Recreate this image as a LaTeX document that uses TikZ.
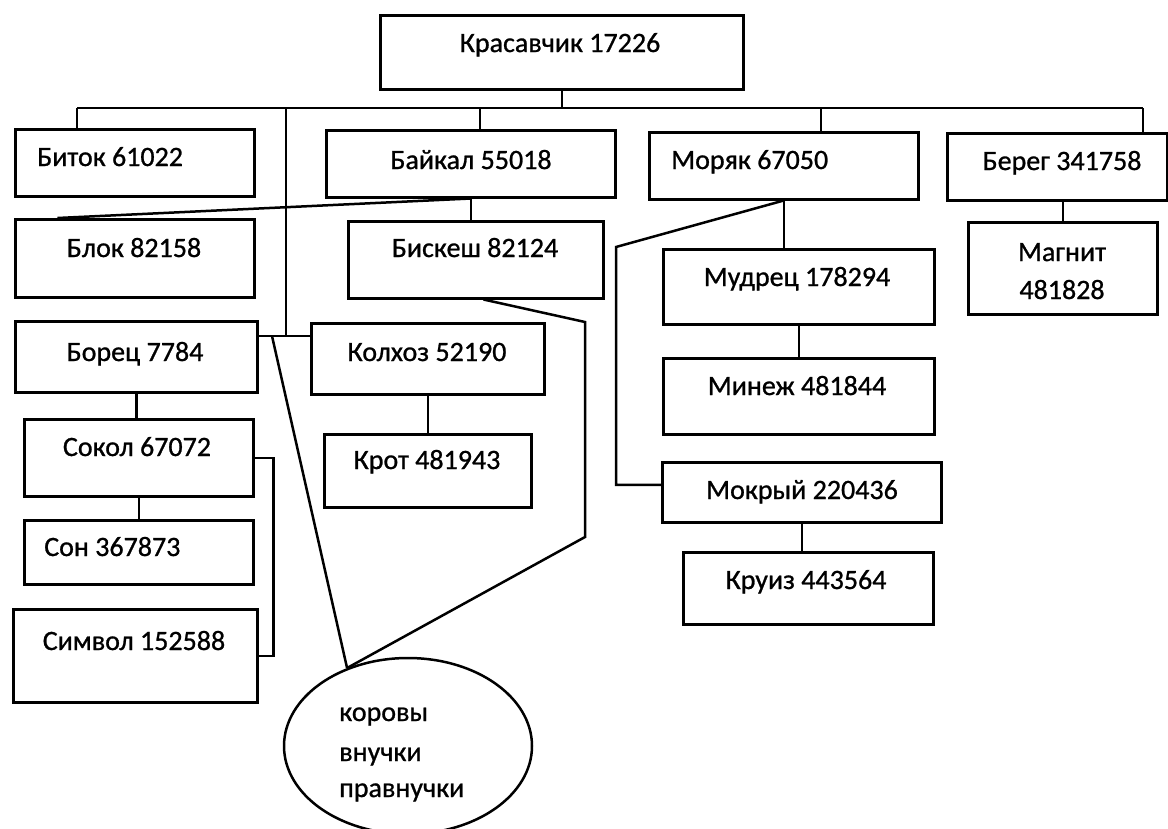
\documentclass[tikz,border=0pt]{standalone}
\usepackage{fontspec}
\setmainfont{Carlito}[FakeBold=0.9]
\usetikzlibrary{calc,shapes.geometric}
\begin{document}
\begin{tikzpicture}[x=1pt,y=-1pt,
  line width=2.5pt,
  box/.style={draw, rectangle, inner sep=0pt, anchor=north west},
  lab/.style={inner sep=0pt, anchor=base, font=\fontsize{28}{34}\selectfont},
  labl/.style={lab, anchor=base west},
  link/.style={draw, line width=2.5pt}]
\useasboundingbox[fill=white] (0,0) rectangle (1168,828);

% boxes
\node[box, minimum width=363, minimum height=74] (root)    at (379,14)  {};
\node[box, minimum width=239, minimum height=67] (bitok)   at (14,128)  {};
\node[box, minimum width=289, minimum height=67] (baikal)  at (325,129) {};
\node[box, minimum width=269, minimum height=67] (moryak)  at (648,131) {};
\node[box, minimum width=220, minimum height=67] (bereg)   at (946,132) {};
\node[box, minimum width=239, minimum height=78] (blok)    at (14,218)  {};
\node[box, minimum width=255, minimum height=77] (biskesh) at (347,220) {};
\node[box, minimum width=189, minimum height=92] (magnit)  at (967,221) {};
\node[box, minimum width=271, minimum height=75] (mudrec)  at (662,248) {};
\node[box, minimum width=242, minimum height=71] (borec)   at (14,320)  {};
\node[box, minimum width=233, minimum height=71] (kolhoz)  at (310,322) {};
\node[box, minimum width=271, minimum height=76] (minezh)  at (662,357) {};
\node[box, minimum width=229, minimum height=77] (sokol)   at (23,418)  {};
\node[box, minimum width=207, minimum height=73] (krot)    at (323,433) {};
\node[box, minimum width=279, minimum height=60] (mokryj)  at (661,461) {};
\node[box, minimum width=250, minimum height=72] (kruiz)   at (682,551) {};
\node[box, minimum width=229, minimum height=64] (son)     at (23,519)  {};
\node[box, minimum width=244, minimum height=93] (simvol)  at (12,608)  {};
\node[draw, ellipse, inner sep=0pt, minimum width=248, minimum height=176] (cows) at (408,746) {};

% labels
\node[lab]  at (560,52)   {Красавчик 17226};
\node[labl] at (36,166)   {Биток 61022};
\node[lab]  at (471,169)  {Байкал 55018};
\node[labl] at (670,169)  {Моряк 67050};
\node[lab]  at (1062,170) {Берег 341758};
\node[lab]  at (134,257)  {Блок 82158};
\node[lab]  at (475,257)  {Бискеш 82124};
\node[lab]  at (1062,261) {Магнит};
\node[lab]  at (1062,299) {481828};
\node[lab]  at (797,286)  {Мудрец 178294};
\node[lab]  at (135,361)  {Борец 7784};
\node[lab]  at (427,361)  {Колхоз 52190};
\node[lab]  at (797,395)  {Минеж 481844};
\node[lab]  at (137,456)  {Сокол 67072};
\node[lab]  at (427,469)  {Крот 481943};
\node[lab]  at (802,499)  {Мокрый 220436};
\node[labl] at (43,556)   {Сон 367873};
\node[lab]  at (806,589)  {Круиз 443564};
\node[lab]  at (134,650)  {Символ 152588};
\node[labl] at (338,721)  {коровы};
\node[labl] at (338,761)  {внучки};
\node[labl] at (338,797)  {правнучки};

% bus under the root
\coordinate (b1) at (77,108);
\coordinate (b2) at (286,108);
\coordinate (b3) at (480,108);
\coordinate (b4) at (821,108);
\coordinate (b5) at (1143,108);
\coordinate (jn) at (286,336);
\coordinate (ja) at (272,336);
\coordinate (c1) at (585,322);
\coordinate (c2) at (585,537);
\coordinate (mk) at (616,247);

\path[link] (root.south) -- (root.south |- b1);
\path[link] (b1) -- (b5);
\path[link] (b1) -- (b1 |- bitok.north);
\path[link] (b3) -- (b3 |- baikal.north);
\path[link] (b4) -- (b4 |- moryak.north);
\path[link] (b5) -- (b5 |- bereg.north);
\path[link] (b2) -- (jn);
\path[link] (jn -| borec.east) -- (jn -| kolhoz.west);

% Байкал branch
\path[link] (baikal.south) -- (baikal.south |- biskesh.north);
\path[link] (baikal.south) -- ($(blok.north west)!0.18!(blok.north east)$);

% Моряк branch
\path[link] (moryak.south) -- (moryak.south |- mudrec.north);
\path[link] (moryak.south) -- (mk) |- ($(mokryj.north west)!0.38!(mokryj.south west)$);
\path[link] (mudrec.south) -- (minezh.north);
\path[link] (mokryj.south) -- (mokryj.south |- kruiz.north);

% Берег branch
\path[link] (magnit.north) -- (magnit.north |- bereg.south);

% Колхоз branch
\path[link] (kolhoz.south) -- (krot.north);

% Борец branch
\path[link] (borec.south) -- (borec.south |- sokol.north);
\path[link] (sokol.south) -- (son.north);
\path[link] (sokol.east) -- ++(19,0) |- (simvol.east);

% lines to the oval
\path[link] (ja) -- (cows.128);
\path[link] ($(biskesh.south west)!0.53!(biskesh.south east)$) -- (c1) -- (c2) -- (cows.128);
\end{tikzpicture}
\end{document}
